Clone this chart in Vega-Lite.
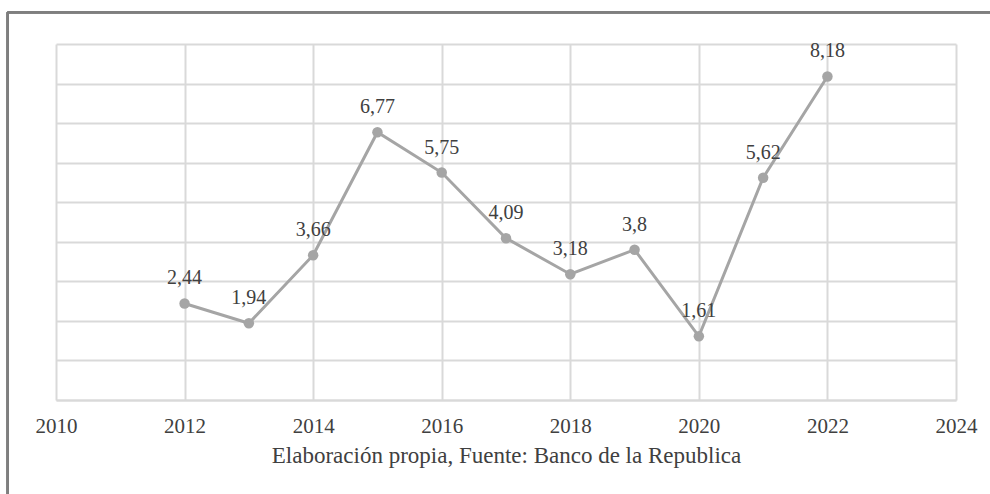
{
  "$schema": "https://vega.github.io/schema/vega-lite/v6.json",
  "width": 900,
  "height": 356,
  "autosize": {"type": "none"},
  "padding": {"left": 56, "top": 44, "right": 34, "bottom": 94},
  "background": "white",
  "config": {
    "view": {"stroke": null},
    "font": "Liberation Serif, Times New Roman, serif",
    "locale": {"number": {"decimal": ",", "thousands": ".", "grouping": [3], "currency": ["", ""]}}
  },
  "data": {
    "values": [
      {"anio": 2012, "valor": 2.44},
      {"anio": 2013, "valor": 1.94},
      {"anio": 2014, "valor": 3.66},
      {"anio": 2015, "valor": 6.77},
      {"anio": 2016, "valor": 5.75},
      {"anio": 2017, "valor": 4.09},
      {"anio": 2018, "valor": 3.18},
      {"anio": 2019, "valor": 3.8},
      {"anio": 2020, "valor": 1.61},
      {"anio": 2021, "valor": 5.62},
      {"anio": 2022, "valor": 8.18}
    ]
  },
  "encoding": {
    "x": {
      "field": "anio",
      "type": "quantitative",
      "scale": {"domain": [2010, 2024], "nice": false, "zero": false},
      "axis": {
        "values": [2010, 2012, 2014, 2016, 2018, 2020, 2022, 2024],
        "format": "d",
        "title": "Elaboración propia, Fuente: Banco de la Republica",
        "titleFont": "Liberation Serif, Times New Roman, serif",
        "titleFontWeight": "normal",
        "titleFontSize": 23,
        "titleColor": "#404040",
        "titlePadding": 8,
        "labelFont": "Liberation Serif, Times New Roman, serif",
        "labelFontSize": 21,
        "labelColor": "#404040",
        "labelPadding": 15,
        "labelFlush": false,
        "ticks": false,
        "domain": true,
        "domainColor": "#d9d9d9",
        "domainWidth": 2,
        "grid": true,
        "gridColor": "#d9d9d9",
        "gridWidth": 2
      }
    },
    "y": {
      "field": "valor",
      "type": "quantitative",
      "scale": {"domain": [0, 9], "nice": false},
      "axis": {
        "values": [0, 1, 2, 3, 4, 5, 6, 7, 8, 9],
        "labels": false,
        "ticks": false,
        "domain": false,
        "title": null,
        "grid": true,
        "gridColor": "#d9d9d9",
        "gridWidth": 2
      }
    }
  },
  "layer": [
    {"mark": {"type": "line", "color": "#a5a5a5", "strokeWidth": 3}},
    {"mark": {"type": "point", "filled": true, "color": "#a5a5a5", "opacity": 1, "size": 110}},
    {
      "mark": {"type": "text", "dy": -25, "fontSize": 20, "color": "#404040", "font": "Liberation Serif, Times New Roman, serif"},
      "encoding": {"text": {"field": "valor", "type": "quantitative", "format": ".2~f"}}
    },
    {
      "mark": {"type": "rule", "color": "#7f7f7f", "strokeWidth": 2, "clip": false},
      "encoding": {
        "x": {"datum": 2009.25},
        "y": {"datum": 9.8},
        "y2": {"datum": -3}
      }
    },
    {
      "mark": {"type": "rule", "color": "#7f7f7f", "strokeWidth": 2, "clip": false},
      "encoding": {
        "x": {"datum": 2009.25},
        "x2": {"datum": 2025},
        "y": {"datum": 9.8}
      }
    }
  ]
}
